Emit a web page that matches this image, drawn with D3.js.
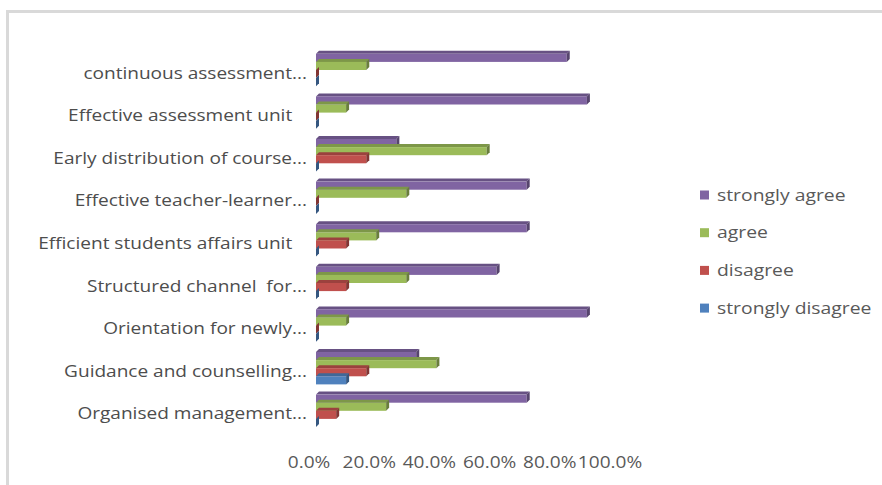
<!DOCTYPE html>
<html lang="en">
<head>
    <meta charset="UTF-8">
    <title>Survey Responses</title>
    <script src="https://d3js.org/d3.v7.min.js"></script>
    <style>
        body { margin: 0; background: #fff; }
        svg text {
            font-family: "Open Sans", Arial, sans-serif;
            fill: #595959;
            white-space: pre;
        }
    </style>
</head>
<body>
    <svg width="882" height="485"></svg>

    <script>
        // categories, top to bottom
        const categories = [
            "continuous assessment...",
            "Effective assessment unit   ",
            "Early distribution of course...",
            "Effective teacher-learner...",
            "Efficient students affairs unit   ",
            "Structured channel  for...",
            "Orientation for newly...",
            "Guidance and counselling...",
            "Organised management..."
        ];

        // series, in the order they sit inside a group (top to bottom)
        const seriesNames = ["strongly agree", "agree", "disagree", "strongly disagree"];
        const seriesColors = ["#8064A2", "#9BBB59", "#C0504D", "#4F81BD"];

        // values per series, one per category (share of respondents)
        const stronglyAgree    = [0.833, 0.90, 0.267, 0.70, 0.70, 0.60, 0.90, 0.333, 0.70];
        const agree            = [0.167, 0.10, 0.567, 0.30, 0.20, 0.30, 0.10, 0.40, 0.233];
        const disagree         = [0, 0, 0.167, 0, 0.10, 0.10, 0, 0.167, 0.067];
        const stronglyDisagree = [0, 0, 0, 0, 0, 0, 0, 0.10, 0];

        const xTicks = [0, 0.2, 0.4, 0.6, 0.8, 1.0];

        const seriesValues = [stronglyAgree, agree, disagree, stronglyDisagree];

        const svg = d3.select("svg");

        // outer chart border (runs off the right and bottom of the picture)
        svg.append("rect")
            .attr("x", 7.5).attr("y", 11.5)
            .attr("width", 900).attr("height", 500)
            .attr("fill", "none")
            .attr("stroke", "#d9d9d9")
            .attr("stroke-width", 3);

        // scales
        const x = d3.scaleLinear().domain([0, 1]).range([316, 617]);
        const y = d3.scaleBand()
            .domain(categories)
            .range([48.7, 432.1])
            .paddingInner(0.24)
            .paddingOuter(0.12);
        const ySub = d3.scaleBand()
            .domain(seriesNames)
            .range([0, y.bandwidth()]);

        const depth = 3; // 3d offset
        const stretch = 1.19; // text in the picture is drawn wide

        // flatten into bar records
        const bars = [];
        categories.forEach((c, i) => {
            seriesNames.forEach((s, j) => {
                bars.push({ cat: c, series: s, color: seriesColors[j], value: seriesValues[j][i] });
            });
        });

        const barG = svg.append("g")
            .selectAll("g")
            .data(bars)
            .join("g")
            .attr("transform", d => `translate(0,${y(d.cat) + ySub(d.series)})`);

        const h = ySub.bandwidth();

        // top face
        barG.append("path")
            .attr("d", d => {
                const x0 = x(0), x1 = x(d.value);
                return `M${x0},0 L${x0 + depth},${-depth} L${x1 + depth},${-depth} L${x1},0 Z`;
            })
            .attr("fill", d => d3.color(d.color).darker(0.6))
            .attr("opacity", d => d.value > 0 ? 1 : 0);

        // front face
        barG.append("rect")
            .attr("x", x(0))
            .attr("y", 0)
            .attr("width", d => x(d.value) - x(0))
            .attr("height", h)
            .attr("fill", d => d.color);

        // right side face
        barG.append("path")
            .attr("d", d => {
                const x1 = x(d.value);
                return `M${x1},0 L${x1 + depth},${-depth} L${x1 + depth},${h - depth} L${x1},${h} Z`;
            })
            .attr("fill", d => d3.color(d.color).darker(1.1));

        // category labels
        svg.append("g")
            .selectAll("text")
            .data(categories)
            .join("text")
            .attr("transform", d => `translate(307,${y(d) + y.bandwidth() / 2 + 3}) scale(${stretch},1)`)
            .attr("dy", "0.35em")
            .attr("text-anchor", "end")
            .attr("font-size", 16)
            .style("fill", "#4d4d4d")
            .text(d => d);

        // x axis labels
        svg.append("g")
            .selectAll("text")
            .data(xTicks)
            .join("text")
            .attr("transform", d => `translate(${x(d) - 7},462) scale(${stretch},1)`)
            .attr("dy", "0.35em")
            .attr("text-anchor", "middle")
            .attr("font-size", 16)
            .text(d => d3.format(".1%")(d));

        // legend
        const legend = svg.append("g")
            .selectAll("g")
            .data(seriesNames)
            .join("g")
            .attr("transform", (d, i) => `translate(700,${195 + i * 37.7})`);

        legend.append("rect")
            .attr("x", 0).attr("y", -4.5)
            .attr("width", 9).attr("height", 9)
            .attr("fill", (d, i) => seriesColors[i]);

        legend.append("text")
            .attr("transform", `translate(17,0) scale(1.21,1)`)
            .attr("dy", "0.35em")
            .attr("font-size", 16)
            .text(d => d);
    </script>
</body>
</html>
